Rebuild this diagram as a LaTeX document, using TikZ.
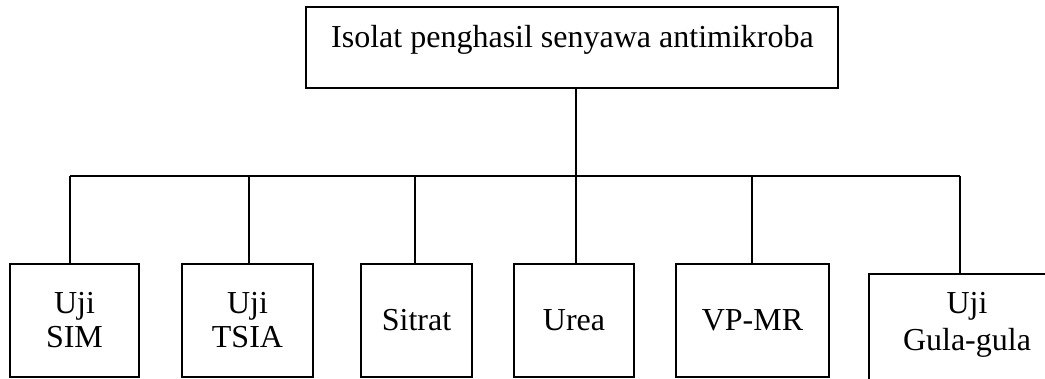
\documentclass[tikz,border=0pt]{standalone}
\usepackage{fontspec}
\setmainfont{Liberation Serif}
\begin{document}
\begin{tikzpicture}[x=1pt,y=-1pt,
  every node/.style={font=\fontsize{32}{34}\selectfont},
  box/.style={draw, line width=2pt, inner sep=0pt, align=center, minimum height=113pt},
  link/.style={line width=2pt}]
\useasboundingbox (0,0) rectangle (1045,379);
\clip (0,0) rectangle (1045,379);

% root box with its caption set in the upper half
\node[draw, line width=2pt, minimum width=532pt, minimum height=81pt, inner sep=0pt] (root) at (572,47.5) {};
\node[anchor=base, inner sep=0pt] (rootlabel) at (572.5,48) {Isolat penghasil senyawa antimikroba};

% test boxes
\node[box, minimum width=129pt] (sim)   at (74.5,320.5) {Uji\\SIM};
\node[box, minimum width=131pt] (tsia)  at (247.5,320.5) {Uji\\TSIA};
\node[box, minimum width=111pt] (sit)   at (416.5,320.5) {Sitrat};
\node[box, minimum width=120pt] (urea)  at (574,320.5) {Urea};
\node[box, minimum width=153pt] (vpmr)  at (752.5,320.5) {VP-MR};
\node[draw, line width=2pt, minimum width=196pt, minimum height=140pt, inner sep=0pt, anchor=north] (gula) at (967,273) {};
\node[align=center, inner sep=0pt, font=\fontsize{32}{37}\selectfont] (gulalabel) at (967,325) {Uji\\Gula-gula};

% distribution bus
\coordinate (busL) at (70,176);
\coordinate (busR) at (960,176);
\draw[link] (busL) -- (busR);
\draw[link] ([xshift=4pt]root.south) -- ([xshift=4pt]root.south |- busL);
\draw[link] ([xshift=-4.5pt]sim.north) -- ([xshift=-4.5pt]sim.north |- busL);
\draw[link] ([xshift=1.5pt]tsia.north) -- ([xshift=1.5pt]tsia.north |- busL);
\draw[link] ([xshift=-1.5pt]sit.north) -- ([xshift=-1.5pt]sit.north |- busL);
\draw[link] ([xshift=2pt]urea.north) -- ([xshift=2pt]urea.north |- busL);
\draw[link] ([xshift=-0.5pt]vpmr.north) -- ([xshift=-0.5pt]vpmr.north |- busL);
\draw[link] ([xshift=-7pt]gula.north) -- ([xshift=-7pt]gula.north |- busR);
\end{tikzpicture}
\end{document}
